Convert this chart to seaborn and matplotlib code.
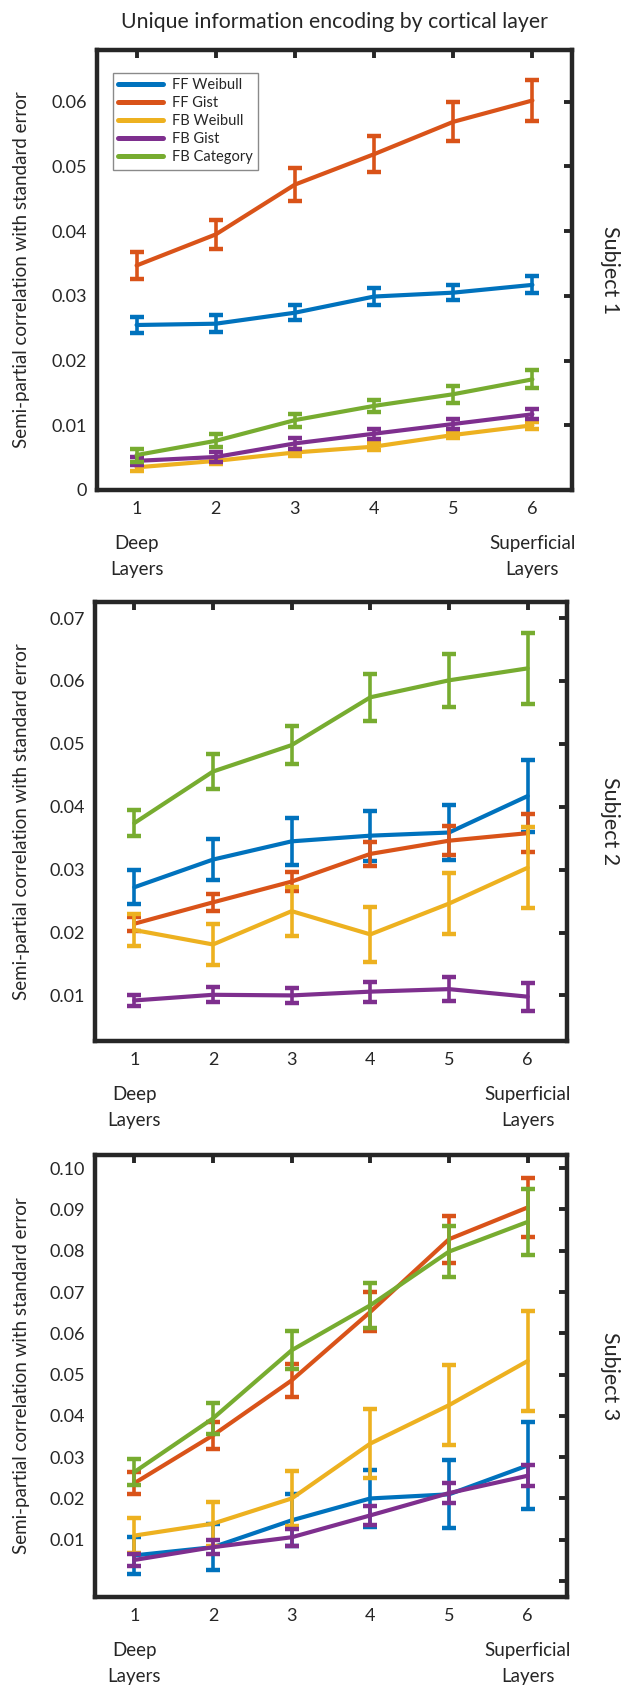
import numpy as np
import pandas as pd
import matplotlib
matplotlib.use("Agg")
import matplotlib.pyplot as plt
import seaborn as sns

# ---------------- data ----------------
layers = [1, 2, 3, 4, 5, 6]
series_names = ["FF Weibull", "FF Gist", "FB Weibull", "FB Gist", "FB Category"]
series_colors = ["#0072BD", "#D95319", "#EDB120", "#7E2F8E", "#77AC30"]
subject_names = ["Subject 1", "Subject 2", "Subject 3"]

# Subject 1
s1_ff_weibull = [0.0255, 0.0257, 0.0274, 0.0299, 0.0305, 0.0317]
s1_ff_weibull_se = [0.0013, 0.0013, 0.0012, 0.0013, 0.0012, 0.0013]
s1_ff_gist = [0.0347, 0.0395, 0.0472, 0.0519, 0.0569, 0.0602]
s1_ff_gist_se = [0.0021, 0.0023, 0.0026, 0.0028, 0.0030, 0.0031]
s1_fb_weibull = [0.0035, 0.0045, 0.0058, 0.0067, 0.0085, 0.0100]
s1_fb_weibull_se = [0.0005, 0.0005, 0.0005, 0.0005, 0.0005, 0.0005]
s1_fb_gist = [0.0045, 0.0051, 0.0072, 0.0087, 0.0102, 0.0117]
s1_fb_gist_se = [0.0006, 0.0007, 0.0008, 0.0008, 0.0008, 0.0008]
s1_fb_category = [0.0054, 0.0076, 0.0108, 0.0130, 0.0148, 0.0171]
s1_fb_category_se = [0.0010, 0.0010, 0.0010, 0.0009, 0.0013, 0.0014]

# Subject 2
s2_ff_weibull = [0.0272, 0.0316, 0.0345, 0.0354, 0.0359, 0.0417]
s2_ff_weibull_se = [0.0027, 0.0033, 0.0037, 0.0040, 0.0043, 0.0057]
s2_ff_gist = [0.0214, 0.0248, 0.0281, 0.0325, 0.0346, 0.0358]
s2_ff_gist_se = [0.0011, 0.0014, 0.0015, 0.0019, 0.0023, 0.0030]
s2_fb_weibull = [0.0204, 0.0181, 0.0234, 0.0197, 0.0246, 0.0303]
s2_fb_weibull_se = [0.0026, 0.0033, 0.0039, 0.0044, 0.0049, 0.0064]
s2_fb_gist = [0.0092, 0.0101, 0.0100, 0.0106, 0.0110, 0.0098]
s2_fb_gist_se = [0.0009, 0.0012, 0.0012, 0.0016, 0.0019, 0.0022]
s2_fb_category = [0.0374, 0.0456, 0.0498, 0.0574, 0.0601, 0.0620]
s2_fb_category_se = [0.0021, 0.0028, 0.0030, 0.0037, 0.0042, 0.0056]

# Subject 3
s3_ff_weibull = [0.0062, 0.0082, 0.0147, 0.0200, 0.0210, 0.0280]
s3_ff_weibull_se = [0.0045, 0.0055, 0.0063, 0.0070, 0.0082, 0.0105]
s3_ff_gist = [0.0237, 0.0353, 0.0486, 0.0652, 0.0828, 0.0905]
s3_ff_gist_se = [0.0026, 0.0032, 0.0040, 0.0047, 0.0057, 0.0072]
s3_fb_weibull = [0.0110, 0.0139, 0.0200, 0.0333, 0.0426, 0.0533]
s3_fb_weibull_se = [0.0042, 0.0053, 0.0067, 0.0083, 0.0097, 0.0120]
s3_fb_gist = [0.0051, 0.0082, 0.0106, 0.0159, 0.0213, 0.0255]
s3_fb_gist_se = [0.0015, 0.0017, 0.0020, 0.0023, 0.0024, 0.0025]
s3_fb_category = [0.0264, 0.0394, 0.0559, 0.0668, 0.0798, 0.0870]
s3_fb_category_se = [0.0032, 0.0037, 0.0046, 0.0055, 0.0062, 0.0080]

# axis ticks / labels
s1_yticks = [0, 0.01, 0.02, 0.03, 0.04, 0.05, 0.06]
s1_yticklabels = ["0", "0.01", "0.02", "0.03", "0.04", "0.05", "0.06"]
s2_yticks = [0.01, 0.02, 0.03, 0.04, 0.05, 0.06, 0.07]
s2_yticklabels = ["0.01", "0.02", "0.03", "0.04", "0.05", "0.06", "0.07"]
s3_yticks = [0, 0.01, 0.02, 0.03, 0.04, 0.05, 0.06, 0.07, 0.08, 0.09, 0.10]
s3_yticklabels = ["", "0.01", "0.02", "0.03", "0.04", "0.05", "0.06",
                  "0.07", "0.08", "0.09", "0.10"]
xtick_labels = ["1", "2", "3", "4", "5", "6"]

title_text = "Unique information encoding by cortical layer"
ylabel_text = "Semi-partial correlation with standard error"
deep_text = "Deep"
superficial_text = "Superficial"
layers_text = "Layers"

subjects = [
    dict(vals=[s1_ff_weibull, s1_ff_gist, s1_fb_weibull, s1_fb_gist, s1_fb_category],
         errs=[s1_ff_weibull_se, s1_ff_gist_se, s1_fb_weibull_se, s1_fb_gist_se, s1_fb_category_se],
         yticks=s1_yticks, ylabels=s1_yticklabels, ylim=(0.0, 0.068)),
    dict(vals=[s2_ff_weibull, s2_ff_gist, s2_fb_weibull, s2_fb_gist, s2_fb_category],
         errs=[s2_ff_weibull_se, s2_ff_gist_se, s2_fb_weibull_se, s2_fb_gist_se, s2_fb_category_se],
         yticks=s2_yticks, ylabels=s2_yticklabels, ylim=(0.0028, 0.0726)),
    dict(vals=[s3_ff_weibull, s3_ff_gist, s3_fb_weibull, s3_fb_gist, s3_fb_category],
         errs=[s3_ff_weibull_se, s3_ff_gist_se, s3_fb_weibull_se, s3_fb_gist_se, s3_fb_category_se],
         yticks=s3_yticks, ylabels=s3_yticklabels, ylim=(-0.0038, 0.1032)),
]

# ---------------- style ----------------
sns.set_style("white")
plt.rcParams["font.family"] = ["Lato", "DejaVu Sans"]
DARK = "#262626"
plt.rcParams["text.color"] = DARK
plt.rcParams["axes.labelcolor"] = DARK
plt.rcParams["xtick.color"] = DARK
plt.rcParams["ytick.color"] = DARK

W, H = 621, 1689
fig = plt.figure(figsize=(W / 100, H / 100), dpi=100)

# axes boxes in pixel coordinates: (left, top, right, bottom)
boxes = [(97, 50, 572, 490), (95, 601.7, 567, 1040.7), (95, 1155, 567, 1596.7)]

for si, (subj, box) in enumerate(zip(subjects, boxes)):
    l, t, r, b = box
    ax = fig.add_axes([l / W, (H - b) / H, (r - l) / W, (b - t) / H])

    for i, (name, col) in enumerate(zip(series_names, series_colors)):
        df = pd.DataFrame({"layer": layers, "value": subj["vals"][i]})
        z = 3 + i * 0.2
        sns.lineplot(data=df, x="layer", y="value", ax=ax, color=col,
                     linewidth=3.0, label=name, zorder=z, legend=False)
        ax.errorbar(layers, subj["vals"][i], yerr=subj["errs"][i], fmt="none",
                    ecolor=col, elinewidth=2.6, capsize=5.0, capthick=3.2,
                    zorder=z + 0.1)

    ax.set_xlim(0.5, 6.5)
    ax.set_ylim(*subj["ylim"])
    ax.set_xticks(layers)
    ax.set_xticklabels(xtick_labels)
    ax.set_yticks(subj["yticks"])
    ax.set_yticklabels(subj["ylabels"])
    ax.tick_params(axis="both", which="major", direction="in", length=5.5,
                   width=2.8, colors=DARK, labelsize=13,
                   top=True, right=True)
    ax.tick_params(axis="x", pad=8)
    ax.tick_params(axis="y", pad=7)
    for sp in ax.spines.values():
        sp.set_visible(True)
        sp.set_linewidth(3.2)
        sp.set_color(DARK)
    ax.grid(False)

    ax.set_xlabel("")
    ax.set_ylabel(ylabel_text, fontsize=13.5)
    ax.yaxis.set_label_coords((30 - l) / (r - l), 0.5)

    # Deep / Superficial layer annotations below the axis
    for xv, word in ((1, deep_text), (6, superficial_text)):
        ax.annotate(word, xy=(xv, 0), xycoords=("data", "axes fraction"),
                    xytext=(0, -54), textcoords="offset pixels",
                    ha="center", va="center", fontsize=13.5)
        ax.annotate(layers_text, xy=(xv, 0), xycoords=("data", "axes fraction"),
                    xytext=(0, -80), textcoords="offset pixels",
                    ha="center", va="center", fontsize=13.5)

    # subject label on the right
    ax.text((610 - l) / (r - l), 0.5, subject_names[si], transform=ax.transAxes,
            rotation=-90, ha="center", va="center", fontsize=15.5)

    if si == 0:
        ax.set_title(title_text, fontsize=15.3, pad=16)
        handles, labels = ax.get_legend_handles_labels()
        leg = ax.legend(handles[:5], labels[:5], loc="upper left",
                        bbox_to_anchor=((113 - l) / (r - l), (b - 73) / (b - t)),
                        borderaxespad=0, fontsize=10.5, frameon=True,
                        fancybox=False, framealpha=1, edgecolor="#8a8a8a",
                        handlelength=3.1, handletextpad=0.6,
                        labelspacing=0.28, borderpad=0.35)
        leg.get_frame().set_linewidth(1.0)
        for ln in leg.get_lines():
            ln.set_linewidth(3.6)

fig.savefig("out.png", dpi=100)
